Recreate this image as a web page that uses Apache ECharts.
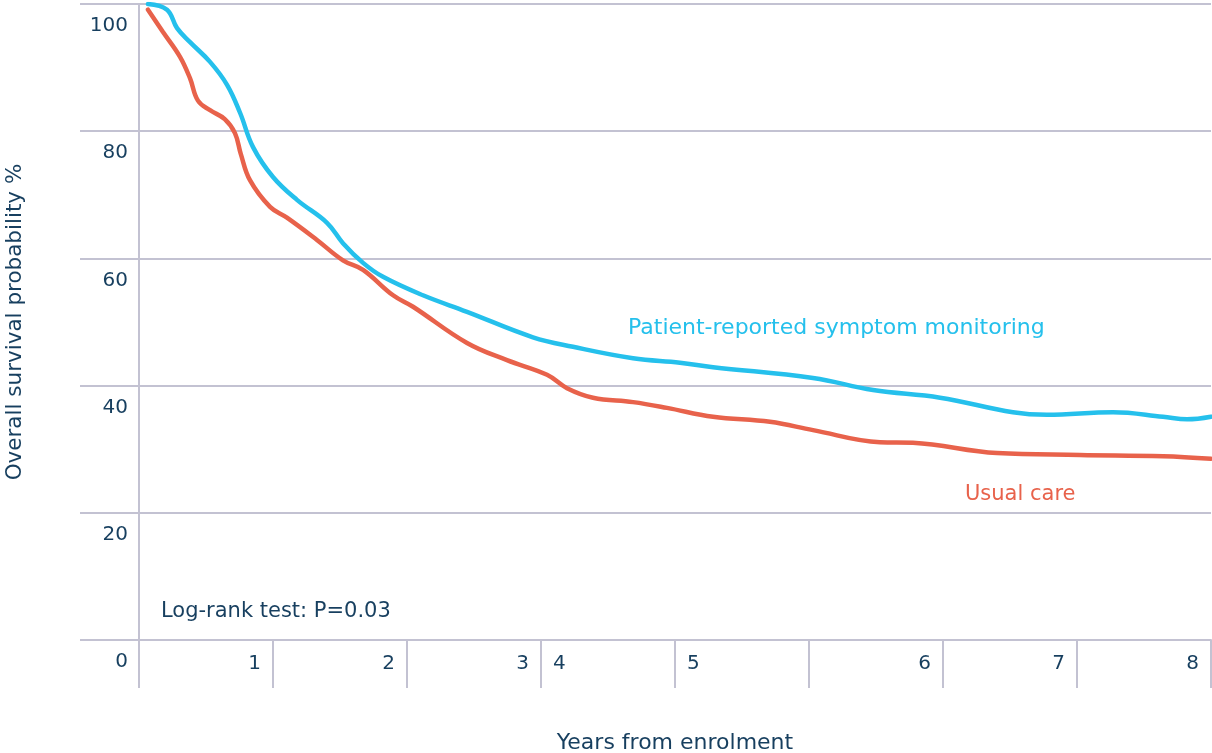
<!DOCTYPE html>
<html>
<head>
<meta charset="utf-8">
<script src="https://cdn.jsdelivr.net/npm/echarts@6/dist/echarts.min.js"></script>
<style>
  html, body { margin: 0; padding: 0; background: #ffffff; }
  #chart { width: 1212px; height: 753px; }
</style>
</head>
<body>
<div id="chart"></div>
<script>
// ---- data ----
const monitoringName = 'Patient-reported symptom monitoring';
const usualCareName = 'Usual care';
const noteText = 'Log-rank test: P=0.03';
const xTitle = 'Years from enrolment';
const yTitle = 'Overall survival probability %';

// [years, survival %]
const monitoringData = [
  [0.067, 100], [0.209, 99.1], [0.284, 96.2], [0.381, 94.0], [0.530, 90.9],
  [0.657, 87.3], [0.754, 82.9], [0.851, 77.5], [1.0, 72.8], [1.179, 69.2],
  [1.403, 65.6], [1.522, 62.4], [1.672, 59.3], [1.821, 57.1], [2.119, 54.2],
  [2.448, 51.6], [2.940, 47.6], [3.239, 46.1], [3.687, 44.3], [4.037, 43.6],
  [4.284, 42.9], [5.030, 41.2], [5.478, 39.3], [5.978, 38.1], [6.522, 35.8],
  [6.776, 35.4], [7.269, 35.8], [7.642, 35.1], [7.821, 34.7], [8.0, 35.1]
];
const usualCareData = [
  [0.067, 99.1], [0.179, 95.6], [0.306, 91.7], [0.381, 88.3], [0.440, 84.8],
  [0.530, 83.3], [0.640, 81.9], [0.716, 79.7], [0.760, 76.4],
  [0.828, 72.3], [0.978, 68.1], [1.104, 66.4], [1.328, 62.9], [1.522, 59.7],
  [1.672, 58.2], [1.896, 54.2], [2.045, 52.4], [2.448, 46.7], [2.746, 44.0],
  [3.045, 41.7], [3.194, 39.6], [3.388, 38.1], [3.687, 37.4], [3.940, 36.5],
  [4.284, 35.1], [4.709, 34.3], [5.030, 33.0], [5.530, 31.1], [5.776, 31.0],
  [6.403, 29.4], [7.022, 29.1], [7.642, 28.9], [8.0, 28.5]
];

// tick labels shown left / right of each x tick (ticks 0..8)
const xTickLabelsLeft  = ['', '1', '2', '3', '', '', '6', '7', '8'];
const xTickLabelsRight = ['', '', '', '4', '5', '', '', '', ''];
const yTickValues = [0, 20, 40, 60, 80, 100];

// ---- styles ----
const FONT = 'DejaVu Sans';
const TEXT = '#173f5f';
const GRID = '#c3c2d2';
const BLUE = '#25c0ec';
const RED = '#e8624b';

const chart = echarts.init(document.getElementById('chart'), null, { renderer: 'canvas' });

const option = {
  backgroundColor: '#ffffff',
  animation: false,
  grid: { left: 139, right: 1, top: 4, bottom: 113, containLabel: false, outerBoundsMode: 'none' },
  xAxis: {
    type: 'value',
    min: 0, max: 8, interval: 1,
    name: xTitle,
    nameLocation: 'middle',
    nameGap: 92,
    nameTextStyle: { color: TEXT, fontSize: 22, fontFamily: FONT },
    axisLine: { show: true, lineStyle: { color: GRID, width: 2 } },
    axisTick: { show: true, inside: false, length: 48, lineStyle: { color: GRID, width: 2 } },
    splitLine: { show: false },
    axisLabel: {
      margin: 14,
      color: TEXT, fontSize: 20, fontFamily: FONT,
      showMinLabel: true, showMaxLabel: true,
      formatter: function (v) {
        const i = Math.round(v);
        const L = xTickLabelsLeft[i] || '';
        const R = xTickLabelsRight[i] || '';
        if (!L && !R) return '';
        return (L ? '{t|' + L + '}' : '{h|0}') + '{g| }' + (R ? '{t|' + R + '}' : '{h|0}');
      },
      rich: {
        t: { color: TEXT, fontSize: 20, fontFamily: FONT },
        h: { color: 'rgba(0,0,0,0)', fontSize: 20, fontFamily: FONT },
        g: { width: 24, fontSize: 20, fontFamily: FONT }
      }
    }
  },
  yAxis: {
    type: 'value',
    min: 0, max: 100, interval: 20,
    name: yTitle,
    nameLocation: 'middle',
    nameGap: 113,
    nameTextStyle: { color: TEXT, fontSize: 21.5, fontFamily: FONT },
    axisLine: { show: true, lineStyle: { color: GRID, width: 2 } },
    axisTick: { show: true, inside: false, length: 59, lineStyle: { color: GRID, width: 2 } },
    splitLine: { show: true, lineStyle: { color: GRID, width: 2 } },
    axisLabel: {
      margin: 11,
      color: TEXT, fontSize: 20, fontFamily: FONT,
      align: 'right',
      verticalAlign: 'top',
      padding: [12, 0, 0, 0],
      formatter: function (v) { return yTickValues.indexOf(v) >= 0 ? String(v) : ''; }
    }
  },
  series: [
    {
      name: monitoringName,
      type: 'line',
      data: monitoringData,
      smooth: 0.4,
      showSymbol: false,
      symbol: 'none',
      lineStyle: { color: BLUE, width: 4.5, cap: 'round' },
      z: 3
    },
    {
      name: usualCareName,
      type: 'line',
      data: usualCareData,
      smooth: 0.4,
      showSymbol: false,
      symbol: 'none',
      lineStyle: { color: RED, width: 4.5, cap: 'round' },
      z: 4
    }
  ],
  graphic: [
    {
      type: 'text', left: 628, top: 317,
      style: { text: monitoringName, fill: BLUE, fontSize: 22, fontFamily: FONT }
    },
    {
      type: 'text', left: 965, top: 484,
      style: { text: usualCareName, fill: RED, fontSize: 21, fontFamily: FONT }
    },
    {
      type: 'text', left: 161, top: 601,
      style: { text: noteText, fill: TEXT, fontSize: 21, fontFamily: FONT }
    }
  ]
};

chart.setOption(option);
</script>
</body>
</html>
